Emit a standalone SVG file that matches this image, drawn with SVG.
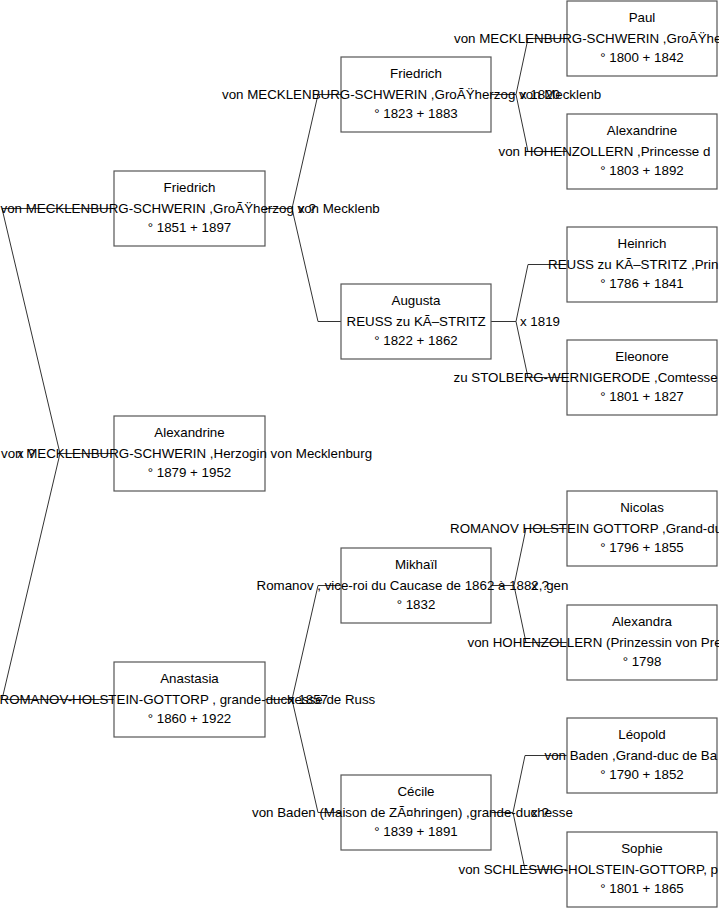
<svg xmlns="http://www.w3.org/2000/svg" width="719" height="908" viewBox="0 0 719 908">
<style>
.box{fill:#fff;stroke:#555;stroke-width:1.2}
.c{fill:none;stroke:#333;stroke-width:1}
text{font-family:"Liberation Sans",Arial,sans-serif;font-size:13.33px;fill:#000}
.m{text-anchor:middle}
</style>
<rect width="719" height="908" fill="#fff"/>
<g id="connectors">
<path class="c" d="M114,453.5 H60 L2,208.5 H114 M60,453.5 L2,699.5 H114"/>
<path class="c" d="M265,208.5 H292 L318,94.5 H341 M292,208.5 L318,321.5 H341"/>
<path class="c" d="M265,699.5 H292 L318,585.5 H341 M292,699.5 L318,812.5 H341"/>
<path class="c" d="M491,94.5 H516 L528,38.5 H567 M516,94.5 L528,151.5 H567"/>
<path class="c" d="M491,321.5 H516 L528,264.5 H567 M516,321.5 L528,377.5 H567"/>
<path class="c" d="M491,585.5 H514 L526,528.5 H567 M514,585.5 L526,642.5 H567"/>
<path class="c" d="M491,812.5 H513 L525,755.5 H567 M513,812.5 L525,869.5 H567"/>
<text x="26" y="457.5" class="m">x ?</text>
<text x="307" y="212.5" class="m">x ?</text>
<text x="308" y="703.5" class="m">x 1857</text>
<text x="540" y="98.5" class="m">x 1820</text>
<text x="540" y="325.5" class="m">x 1819</text>
<text x="540" y="589.5" class="m">x ?</text>
<text x="540" y="816.5" class="m">x ?</text>
</g>
<g id="n-friedrich-1851">
<rect class="box" x="114" y="171" width="151" height="75"/>
<text x="189.5" y="192" class="m">Friedrich</text>
<text x="0.5" y="212.5">von MECKLENBURG-SCHWERIN ,GroÃŸherzog von Mecklenb</text>
<text x="189.5" y="232" class="m">° 1851 + 1897</text>
</g>
<g id="n-alexandrine-1879">
<rect class="box" x="114" y="416" width="151" height="75"/>
<text x="189.5" y="437" class="m">Alexandrine</text>
<text x="1" y="457.5">von MECKLENBURG-SCHWERIN ,Herzogin von Mecklenburg</text>
<text x="189.5" y="477" class="m">° 1879 + 1952</text>
</g>
<g id="n-anastasia-1860">
<rect class="box" x="114" y="662" width="151" height="75"/>
<text x="189.5" y="683" class="m">Anastasia</text>
<text x="-0.5" y="703.5">ROMANOV-HOLSTEIN-GOTTORP , grande-duchesse de Russ</text>
<text x="189.5" y="723" class="m">° 1860 + 1922</text>
</g>
<g id="n-friedrich-1823">
<rect class="box" x="341" y="57" width="150" height="75"/>
<text x="416" y="78" class="m">Friedrich</text>
<text x="222" y="98.5">von MECKLENBURG-SCHWERIN ,GroÃŸherzog von Mecklenb</text>
<text x="416" y="118" class="m">° 1823 + 1883</text>
</g>
<g id="n-augusta-1822">
<rect class="box" x="341" y="284" width="150" height="75"/>
<text x="416" y="305" class="m">Augusta</text>
<text x="346.5" y="325.5">REUSS zu KÃ–STRITZ</text>
<text x="416" y="345" class="m">° 1822 + 1862</text>
</g>
<g id="n-mikhail-1832">
<rect class="box" x="341" y="548" width="150" height="75"/>
<text x="416" y="569" class="m">Mikhaïl</text>
<text x="256.5" y="589.5">Romanov , vice-roi du Caucase de 1862 à 1882, gen</text>
<text x="416" y="609" class="m">° 1832</text>
</g>
<g id="n-cecile-1839">
<rect class="box" x="341" y="775" width="150" height="75"/>
<text x="416" y="796" class="m">Cécile</text>
<text x="252" y="816.5">von Baden (Maison de ZÃ¤hringen) ,grande-duchesse</text>
<text x="416" y="836" class="m">° 1839 + 1891</text>
</g>
<g id="n-paul-1800">
<rect class="box" x="567" y="1" width="150" height="75"/>
<text x="642" y="22" class="m">Paul</text>
<text x="454" y="42.5">von MECKLENBURG-SCHWERIN ,GroÃŸhe</text>
<text x="642" y="62" class="m">° 1800 + 1842</text>
</g>
<g id="n-alexandrine-1803">
<rect class="box" x="567" y="114" width="150" height="75"/>
<text x="642" y="135" class="m">Alexandrine</text>
<text x="498.5" y="155.5">von HOHENZOLLERN ,Princesse d</text>
<text x="642" y="175" class="m">° 1803 + 1892</text>
</g>
<g id="n-heinrich-1786">
<rect class="box" x="567" y="227" width="150" height="75"/>
<text x="642" y="248" class="m">Heinrich</text>
<text x="548" y="268.5">REUSS zu KÃ–STRITZ ,Prin</text>
<text x="642" y="288" class="m">° 1786 + 1841</text>
</g>
<g id="n-eleonore-1801">
<rect class="box" x="567" y="340" width="150" height="75"/>
<text x="642" y="361" class="m">Eleonore</text>
<text x="453.5" y="381.5">zu STOLBERG-WERNIGERODE ,Comtesse</text>
<text x="642" y="401" class="m">° 1801 + 1827</text>
</g>
<g id="n-nicolas-1796">
<rect class="box" x="567" y="491" width="150" height="75"/>
<text x="642" y="512" class="m">Nicolas</text>
<text x="450" y="532.5">ROMANOV HOLSTEIN GOTTORP ,Grand-du</text>
<text x="642" y="552" class="m">° 1796 + 1855</text>
</g>
<g id="n-alexandra-1798">
<rect class="box" x="567" y="605" width="150" height="75"/>
<text x="642" y="626" class="m">Alexandra</text>
<text x="467.5" y="646.5">von HOHENZOLLERN (Prinzessin von Pre</text>
<text x="642" y="666" class="m">° 1798</text>
</g>
<g id="n-leopold-1790">
<rect class="box" x="567" y="718" width="150" height="75"/>
<text x="642" y="739" class="m">Léopold</text>
<text x="544.5" y="759.5">von Baden ,Grand-duc de Ba</text>
<text x="642" y="779" class="m">° 1790 + 1852</text>
</g>
<g id="n-sophie-1801">
<rect class="box" x="567" y="832" width="150" height="75"/>
<text x="642" y="853" class="m">Sophie</text>
<text x="458.5" y="873.5">von SCHLESWIG-HOLSTEIN-GOTTORP, p</text>
<text x="642" y="893" class="m">° 1801 + 1865</text>
</g>
</svg>
